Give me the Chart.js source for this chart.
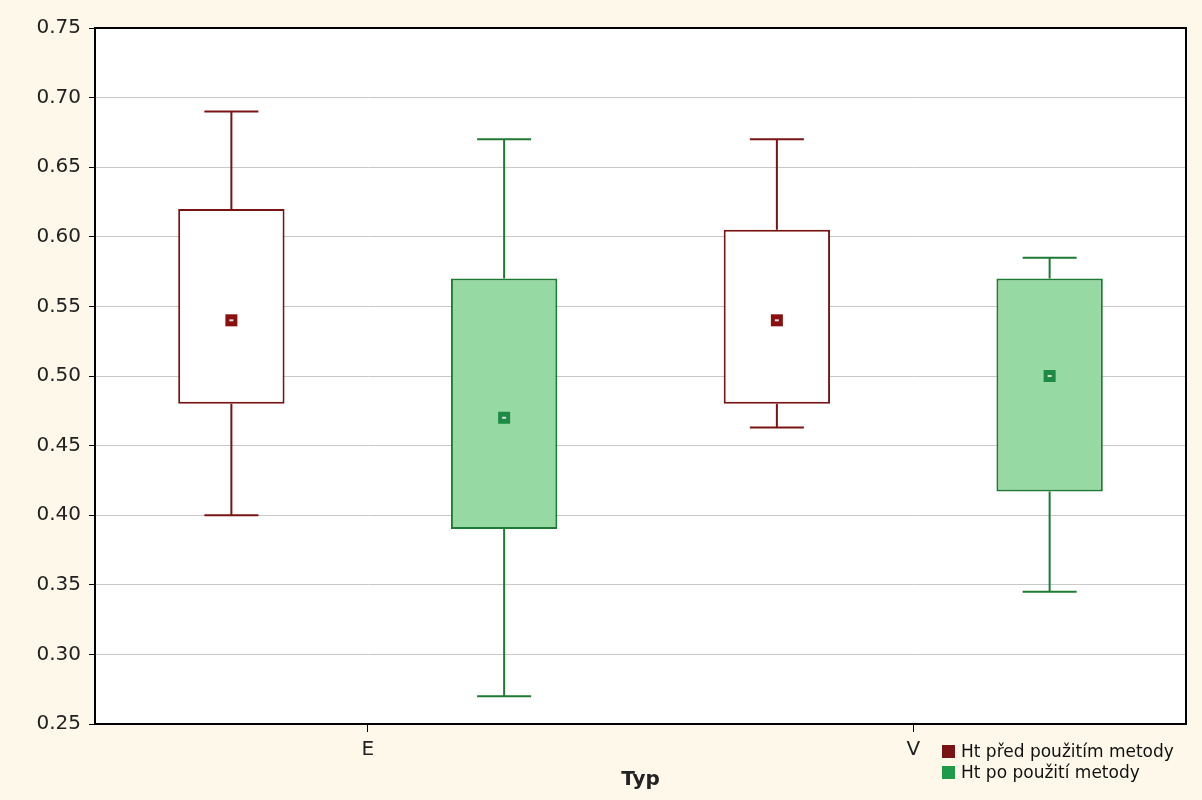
<!DOCTYPE html>
<html><head><meta charset="utf-8">
<script src="https://cdn.jsdelivr.net/npm/chart.js@4"></script>
<style>
body{margin:0;background:#fdf8ea;}
#wrap{position:relative;width:1202px;height:800px;}
#legend{position:absolute;left:942px;top:741px;font:17px "DejaVu Sans",sans-serif;color:#111;line-height:21px;white-space:nowrap;overflow:hidden;width:258px}
#legend span.b{display:inline-block;width:13px;height:13px;margin-right:6px;vertical-align:-1px}
</style></head>
<body><div id="wrap"><canvas id="c" width="1202" height="800"></canvas>
<div id="legend"><div><span class="b" style="background:#7a1414"></span>Ht před použitím metody</div><div><span class="b" style="background:#1f9a48"></span>Ht po použití metody</div></div></div>
<script>
const categories = ['E', 'V'];
const beforeMin = [0.40, 0.463], beforeQ1 = [0.48, 0.48], beforeQ3 = [0.62, 0.605], beforeMax = [0.69, 0.67], beforeMean = [0.54, 0.54];
const afterMin = [0.27, 0.345], afterQ1 = [0.39, 0.417], afterQ3 = [0.57, 0.57], afterMax = [0.67, 0.585], afterMean = [0.47, 0.50];
const yTicks = [0.25, 0.30, 0.35, 0.40, 0.45, 0.50, 0.55, 0.60, 0.65, 0.70, 0.75];

const stats = [
  {min: beforeMin, max: beforeMax, mean: beforeMean, line: '#7a1414', dot: '#8a1010'},
  {min: afterMin, max: afterMax, mean: afterMean, line: '#1f7a35', dot: '#1f8a45'}
];

const whiskers = {
  id: 'whiskers',
  afterDatasetsDraw(chart) {
    const {ctx} = chart, y = chart.scales.y;
    stats.forEach((s, di) => {
      chart.getDatasetMeta(di).data.forEach((bar, i) => {
        const x = bar.x, q3 = Math.min(bar.y, bar.base), q1 = Math.max(bar.y, bar.base);
        const top = y.getPixelForValue(s.max[i]), bot = y.getPixelForValue(s.min[i]);
        ctx.save();
        ctx.strokeStyle = s.line; ctx.lineWidth = 2;
        ctx.beginPath();
        ctx.moveTo(x, q3); ctx.lineTo(x, top);
        ctx.moveTo(x - 27, top); ctx.lineTo(x + 27, top);
        ctx.moveTo(x, q1); ctx.lineTo(x, bot);
        ctx.moveTo(x - 27, bot); ctx.lineTo(x + 27, bot);
        ctx.stroke();
        const m = y.getPixelForValue(s.mean[i]);
        ctx.fillStyle = s.dot; ctx.fillRect(x - 6, m - 6, 12, 12);
        ctx.fillStyle = '#ddd'; ctx.fillRect(x - 2, m - 1, 4, 2);
        ctx.restore();
      });
    });
  }
};

new Chart(document.getElementById('c'), {
  type: 'bar',
  data: {
    labels: categories,
    datasets: [
      {data: beforeQ1.map((v, i) => [v, beforeQ3[i]]), backgroundColor: '#ffffff', borderColor: '#7a1414', borderWidth: 2, borderSkipped: false},
      {data: afterQ1.map((v, i) => [v, afterQ3[i]]), backgroundColor: '#96d9a2', borderColor: '#1f7a35', borderWidth: 2, borderSkipped: false}
    ]
  },
  options: {
    responsive: false, animation: false,
    layout: {padding: {left: 0, right: 16, top: 28, bottom: 4}},
    plugins: {legend: {display: false}, tooltip: {enabled: false}},
    datasets: {bar: {categoryPercentage: 1, barPercentage: 0.39}},
    scales: {
      x: {
        grid: {display: true, drawOnChartArea: false, offset: false, tickLength: 8, tickColor: '#000'},
        border: {color: '#000', width: 2},
        ticks: {color: '#222', font: {size: 20, family: 'DejaVu Sans'}, padding: 6},
        title: {display: true, text: 'Typ', color: '#222', font: {size: 20, weight: 'bold', family: 'DejaVu Sans'}, padding: {top: 0}}
      },
      y: {
        min: 0.25, max: 0.75,
        afterBuildTicks: ax => { ax.ticks = yTicks.map(v => ({value: v})); },
        afterFit: ax => { ax.width = 95; },
        grid: {color: '#c8c8c8', tickLength: 6, tickColor: '#000'},
        border: {color: '#000', width: 2},
        ticks: {color: '#222', font: {size: 20, family: 'DejaVu Sans'}, padding: 8, callback: v => v.toFixed(2)}
      }
    }
  },
  plugins: [whiskers, {
    id: 'frame',
    beforeDraw(c) { const a = c.chartArea, x = c.ctx; x.save(); x.fillStyle = '#fff'; x.fillRect(a.left, a.top, a.width, a.height); x.restore(); },
    afterDraw(c) { const a = c.chartArea, x = c.ctx; x.save(); x.strokeStyle = '#000'; x.lineWidth = 2; x.strokeRect(a.left, a.top, a.width, a.height); x.restore(); }
  }]
});
</script></body></html>
